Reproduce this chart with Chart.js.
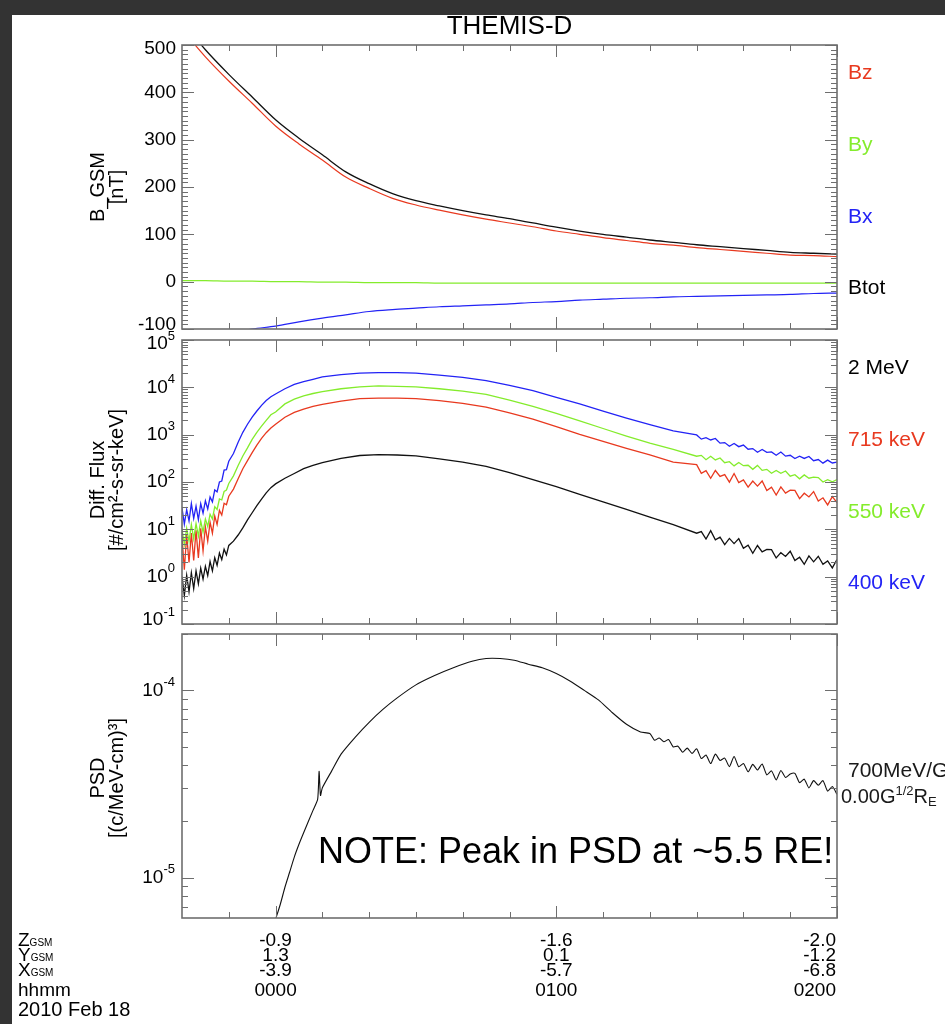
<!DOCTYPE html>
<html>
<head>
<meta charset="utf-8">
<title>THEMIS-D</title>
<script src="https://cdn.jsdelivr.net/npm/chart.js@4.4.0/dist/chart.umd.min.js"></script>
<style>
  body { margin:0; background:#333; width:945px; height:1024px; overflow:hidden; position:relative; }
  #sheet { position:absolute; left:12px; top:15px; right:0; bottom:0; background:#fff; }
  canvas { position:absolute; left:0; }
</style>
</head>
<body>
<div id="sheet"></div>
<canvas id="bPanel" width="945" height="345" style="top:0"></canvas>
<canvas id="fluxPanel" width="945" height="320" style="top:320px"></canvas>
<canvas id="psdPanel" width="945" height="409" style="top:615px"></canvas>
<script>
// time axis, minutes from 2010-02-18 00:00 UT
const timeTicksMajor = [0, 60, 120];
const timeTicksMinor = [-10, 10, 20, 30, 40, 50, 70, 80, 90, 100, 110];
const hhmmLabels = ['0000', '0100', '0200'];
const zGsmLabels = ['-0.9', '-1.6', '-2.0'];
const yGsmLabels = ['1.3', '0.1', '-1.2'];
const xGsmLabels = ['-3.9', '-5.7', '-6.8'];

// B_GSM [nT]
const bTimes = [-20,-15,-10,-5,0,5,10,15,20,25,30,35,40,45,50,55,60,65,70,75,80,85,90,95,100,105,110,115,120];
const bTot = [550,490,438,390,342,303,268,232,207,186,171,160,150,141,133,124,115,107,100,94,88,83,78,74,70,66,62,60,58];
const bZ   = [533,475,424,377,329,291,257,221,197,176,162,151,141,132,124,116,107,100,93,87,81,77,72,68,64,60,56,55,53];
const bY   = [2,2,1,1,0,0,-1,-1,-2,-2,-2,-3,-3,-3,-3,-3,-3,-3,-3,-3,-3,-3,-3,-3,-3,-3,-3,-3,-3];
const bX   = [-135,-122,-110,-100,-94,-85,-77,-70,-63,-59,-56,-53,-51,-49,-47,-44,-42,-39,-37,-35,-34,-32,-31,-30,-29,-28,-27,-25,-24];
const bTicks = [-100, 0, 100, 200, 300, 400, 500];

// Diff. flux [#/cm2-s-sr-keV]
const fluxTimes = [-20,-19.5,-19,-18.5,-18,-17.5,-17,-16.5,-16,-15.5,-15,-14.5,-14,-13.5,-13,-12.5,-12,-11.5,-11,-10.5,-10,
  -9,-8,-7,-6,-5,-4,-3,-2,-1,0, 2,4,6,8,10, 14,18,22,26,30, 35,40,45,50,55,60,65,70,75,80,85,
  90,91,92,93,94,95,96,97,98,99,100,101,102,103,104,105,106,107,108,109,110,111,112,113,114,115,116,117,118,119,120];
const flux400 = [28,13,26,15,35,17,31,16,35,22,40,27,48,38,68,62,100,105,178,182,275,
  400,690,1120,1660,2340,3160,4170,5250,6310,7240, 9330,11500,13200,14800,16600, 18600,20000,20400,20400,20000,
  18200,16200,13800,11000,8510,6170,4470,3160,2240,1620,1200,
  989,805,865,773,830,661,681,570,652,558,603,493,508,426,486,422,431,366,429,352,367,313,352,315,346,282,298,250,290,252,263];
const flux550 = [10,4.8,10.5,5.6,12.6,6.3,13.2,7.2,15.1,8.7,16.6,11.5,20.9,16.6,30.2,26.3,43.7,41.7,63.1,67.6,93.3,
  135,224,355,525,794,1120,1510,2000,2630,3020, 4470,5620,6610,7410,8130, 9330,10200,10700,10500,10200,
  9330,8320,7080,5370,3980,2820,1950,1350,933,661,490,
  350,365,296,350,292,322,256,268,219,259,221,226,185,224,176,185,153,175,153,171,133,143,117,141,120,127,124,100,112,101,113];
const flux715 = [7.1,1.4,7.6,2.0,8.3,2.2,9.5,2.5,10.5,3.5,11.2,5.6,14.1,8.3,19.1,12.6,25.1,20.0,35.5,33.1,50.1,
  70.8,117,191,282,417,603,832,1100,1380,1660, 2340,2950,3470,3980,4370, 5130,5750,5890,5890,5750,
  5250,4570,3800,2880,2140,1480,1020,724,513,372,263,
  232,152,173,120,175,131,143,99.5,151,96.8,111,77.6,105,82.0,105,65.8,78.0,53.2,78.7,58.3,67.3,66.4,44.5,57.8,48.3,62.8,39.8,46.3,32.8,49.0,36.6];
const flux2000 = [1.0,0.40,1.07,0.48,1.2,0.56,1.32,0.71,1.51,0.89,1.66,1.05,2.09,1.32,2.51,1.74,3.16,2.29,3.8,2.88,4.57,
  5.62,7.59,10.7,15.8,22.4,31.6,43.7,58.9,75.9,91.2, 120,151,191,224,257, 316,363,380,372,355,
  309,263,214,158,112,79.4,55.0,38.0,26.3,18.2,12.6,
  8.28,8.95,6.22,9.38,6.0,6.85,4.76,6.43,4.99,6.37,3.96,4.63,3.12,4.55,3.33,3.78,3.72,2.48,3.21,2.67,3.45,2.20,2.57,1.83,2.74,2.06,2.70,1.83,2.15,1.53,2.31];
const fluxDecades = [-1, 0, 1, 2, 3, 4, 5];

// PSD [(c/MeV-cm)^3]
const psdTimes = [-1,0,1,2,3,4,5,6,8,9,9.3,9.6,10,12,14,17,20,23,26,30,34,38,42,45,48,51,54,57,60,
  63,66,69,72,75,78,
  80,81,82,83,84,85,86,87,88,89,90,91,92,93,94,95,96,97,98,99,100,
  101,102,103,104,105,106,107,108,109,110,111,112,113,114,115,116,117,118,119,120];
const psd = [5.0e-6,6.0e-6,7.2e-6,8.9e-6,1.07e-5,1.29e-5,1.51e-5,1.74e-5,2.29e-5,2.63e-5,3.7e-5,2.75e-5,3.02e-5,
  3.72e-5,4.57e-5,5.62e-5,6.76e-5,7.94e-5,9.12e-5,1.07e-4,1.20e-4,1.32e-4,1.43e-4,1.48e-4,1.48e-4,1.45e-4,1.38e-4,1.32e-4,1.23e-4,
  1.12e-4,1.0e-4,8.9e-5,7.6e-5,6.6e-5,6.0e-5,
  5.89e-5,5.42e-5,5.57e-5,5.32e-5,5.47e-5,4.99e-5,5.04e-5,4.68e-5,4.92e-5,4.61e-5,4.88e-5,4.33e-5,4.52e-5,4.07e-5,4.57e-5,4.23e-5,
  4.35e-5,3.92e-5,4.44e-5,3.91e-5,4.07e-5,
  3.68e-5,4.03e-5,3.76e-5,4.05e-5,3.54e-5,3.72e-5,3.33e-5,3.74e-5,3.43e-5,3.58e-5,3.61e-5,3.22e-5,3.36e-5,3.02e-5,3.30e-5,
  3.12e-5,3.30e-5,2.90e-5,3.07e-5,2.79e-5];
const psdDecades = [-5, -4];

const RED = '#e8391f', GREEN = '#84ec2c', BLUE = '#2323f5', BLACK = '#111';
const FONT = '"Liberation Sans", Arial, sans-serif';

const pts = (xs, ys) => xs.map((x, i) => ({x, y: ys[i]}));
const logMinor = decs => {
  const out = [];
  decs.concat([decs[0] - 1]).forEach(d => { for (let m = 2; m <= 9; m++) out.push(m * Math.pow(10, d)); });
  return out;
};

function drawPow(ctx, exp, xr, y){
  ctx.textAlign = 'left';
  ctx.font = '13px ' + FONT;
  const ew = ctx.measureText(exp).width;
  ctx.fillText(exp, xr - ew, y - 8);
  ctx.font = '19px ' + FONT;
  const bw = ctx.measureText('10').width;
  ctx.fillText('10', xr - ew - bw, y);
}

// IDL/tplot-like frame: inward ticks, labels, titles
function idlFrame(cfg){
  return {
    id: 'idlFrame',
    afterDatasetsDraw(chart){
      const {ctx, chartArea: a} = chart;
      const xs = chart.scales.x, ys = chart.scales.y;
      ctx.save();
      ctx.strokeStyle = '#6e6e6e';
      ctx.lineWidth = 1;
      ctx.beginPath();
      const seg = (x1, y1, x2, y2) => { ctx.moveTo(x1, y1); ctx.lineTo(x2, y2); };
      timeTicksMajor.concat(timeTicksMinor).forEach(t => {
        const px = Math.round(xs.getPixelForValue(t)) + 0.5;
        const len = timeTicksMajor.includes(t) ? 12 : 6;
        seg(px, a.top, px, a.top + len);
        seg(px, a.bottom, px, a.bottom - len);
      });
      cfg.yMajor.forEach(v => {
        const py = Math.round(ys.getPixelForValue(v)) + 0.5;
        seg(a.left, py, a.left + 12, py); seg(a.right, py, a.right - 12, py);
      });
      cfg.yMinor.forEach(v => {
        if (v < ys.min || v > ys.max) return;
        const py = Math.round(ys.getPixelForValue(v)) + 0.5;
        seg(a.left, py, a.left + 6, py); seg(a.right, py, a.right - 6, py);
      });
      ctx.stroke();
      ctx.lineWidth = 1.6;
      ctx.strokeRect(a.left, a.top, a.right - a.left, a.bottom - a.top);

      // left tick labels (edge labels nudged inward like the original)
      ctx.fillStyle = '#000';
      ctx.textBaseline = 'middle';
      cfg.yMajor.forEach((v, i) => {
        let py = ys.getPixelForValue(v);
        if (py - a.top < 3) py += 4;
        if (a.bottom - py < 3) py -= 4;
        if (cfg.yPow) drawPow(ctx, String(cfg.yPow[i]), a.left - 7, py);
        else { ctx.font = '19px ' + FONT; ctx.textAlign = 'right'; ctx.fillText(String(v), a.left - 6, py); }
      });

      // rotated axis title
      ctx.save();
      ctx.translate(a.left - 84, (a.top + a.bottom) / 2 + cfg.titleShift);
      ctx.rotate(-Math.PI / 2);
      ctx.textAlign = 'center';
      ctx.font = '20px ' + FONT;
      ctx.fillText(cfg.title[0], 0, 0);
      ctx.fillText(cfg.title[1], 0, 19);
      ctx.restore();

      // right-hand labels
      ctx.textAlign = 'left';
      ctx.font = '21px ' + FONT;
      (cfg.right || []).forEach((r, i) => {
        ctx.fillStyle = r[1];
        ctx.fillText(r[0], a.right + 11, a.top + a.height * [0.1, 0.353, 0.605, 0.855][i]);
      });
      if (cfg.extra) cfg.extra(ctx, a, xs, ys);
      ctx.restore();
    }
  };
}

function baseOptions(pad, yType, yMin, yMax){
  return {
    responsive: false,
    devicePixelRatio: 1,
    animation: false,
    layout: { padding: pad },
    elements: { point: { radius: 0 } },
    plugins: { legend: { display: false }, tooltip: { enabled: false } },
    scales: {
      x: { type: 'linear', min: -20, max: 120, display: false },
      y: { type: yType, min: yMin, max: yMax, display: false }
    }
  };
}

const bMinor = [];
for (let v = -100; v <= 500; v += 10) if (v % 100) bMinor.push(v);

new Chart(document.getElementById('bPanel'), {
  type: 'line',
  data: { datasets: [
    { data: pts(bTimes, bX), borderColor: BLUE, borderWidth: 1.2, cubicInterpolationMode: 'monotone' },
    { data: pts(bTimes, bY), borderColor: GREEN, borderWidth: 1.2, cubicInterpolationMode: 'monotone' },
    { data: pts(bTimes, bZ), borderColor: RED, borderWidth: 1.2, cubicInterpolationMode: 'monotone' },
    { data: pts(bTimes, bTot), borderColor: BLACK, borderWidth: 1.3, cubicInterpolationMode: 'monotone' }
  ]},
  options: baseOptions({left: 182, right: 108, top: 45, bottom: 16}, 'linear', -100, 500),
  plugins: [idlFrame({
    yMajor: bTicks, yMinor: bMinor, title: ['B_GSM', '[nT]'], titleShift: 0,
    right: [['Bz', RED], ['By', GREEN], ['Bx', BLUE], ['Btot', '#000']],
    extra(ctx, a){
      ctx.fillStyle = '#000';
      ctx.font = '26px ' + FONT;
      ctx.textAlign = 'center';
      ctx.fillText('THEMIS-D', (a.left + a.right) / 2, 27);
    }
  })]
});

new Chart(document.getElementById('fluxPanel'), {
  type: 'line',
  data: { datasets: [
    { data: pts(fluxTimes, flux400), borderColor: BLUE, borderWidth: 1.3 },
    { data: pts(fluxTimes, flux550), borderColor: GREEN, borderWidth: 1.3 },
    { data: pts(fluxTimes, flux715), borderColor: RED, borderWidth: 1.3 },
    { data: pts(fluxTimes, flux2000), borderColor: BLACK, borderWidth: 1.3 }
  ]},
  options: baseOptions({left: 182, right: 108, top: 20, bottom: 16}, 'logarithmic', 0.1, 1e5),
  plugins: [idlFrame({
    yMajor: fluxDecades.map(d => Math.pow(10, d)), yPow: fluxDecades,
    yMinor: logMinor(fluxDecades), title: ['Diff. Flux', '[#/cm\u00b2-s-sr-keV]'], titleShift: -2,
    right: [['2 MeV', '#000'], ['715 keV', RED], ['550 keV', GREEN], ['400 keV', BLUE]]
  })]
});

new Chart(document.getElementById('psdPanel'), {
  type: 'line',
  data: { datasets: [
    { data: pts(psdTimes, psd), borderColor: BLACK, borderWidth: 1.1, tension: 0.2 }
  ]},
  options: baseOptions({left: 182, right: 108, top: 19, bottom: 106}, 'logarithmic', 6.1e-6, 2.0e-4),
  plugins: [idlFrame({
    yMajor: psdDecades.map(d => Math.pow(10, d)), yPow: psdDecades,
    yMinor: logMinor(psdDecades), title: ['PSD', '[(c/MeV-cm)\u00b3]'], titleShift: 2,
    extra(ctx, a, xs){
      // PSD label on the right
      ctx.fillStyle = '#1a1a1a';
      ctx.textAlign = 'left';
      ctx.font = '21px ' + FONT;
      ctx.fillText('700MeV/G', a.right + 11, a.top + 137);
      let x = a.right + 4, y = a.top + 163;
      const part = (s, f, dy) => { ctx.font = f + 'px ' + FONT; ctx.fillText(s, x, y + dy); x += ctx.measureText(s).width; };
      part('0.00G', 20, 0); part('1/2', 13, -6); part('R', 20, 0); part('E', 13, 5);

      // annotation
      ctx.fillStyle = '#000';
      ctx.font = '36px ' + FONT;
      ctx.fillText('NOTE: Peak in PSD at ~5.5 RE!', 318, 853 - 615);

      // orbit / time labels under the x axis
      const rows = [zGsmLabels, yGsmLabels, xGsmLabels, hhmmLabels];
      const rowY = [941, 956, 971, 991].map(v => v - 615);
      ctx.textAlign = 'center';
      ctx.font = '19px ' + FONT;
      timeTicksMajor.forEach((t, i) => {
        rows.forEach((r, k) => {
          const w = ctx.measureText(r[i]).width;
          const px = Math.min(xs.getPixelForValue(t), a.right - 1 - w / 2);
          ctx.fillText(r[i], px, rowY[k]);
        });
      });
      ctx.textAlign = 'left';
      ['Z', 'Y', 'X'].forEach((c, k) => {
        ctx.font = '19px ' + FONT;
        ctx.fillText(c, 18, rowY[k]);
        const w = ctx.measureText(c).width;
        ctx.font = '10px ' + FONT;
        ctx.fillText('GSM', 18 + w, rowY[k] + 2);
      });
      ctx.font = '19px ' + FONT;
      ctx.fillText('hhmm', 18, rowY[3]);
      ctx.font = '20px ' + FONT;
      ctx.fillText('2010 Feb 18', 18, 1010 - 615);
    }
  })]
});
</script>
</body>
</html>
